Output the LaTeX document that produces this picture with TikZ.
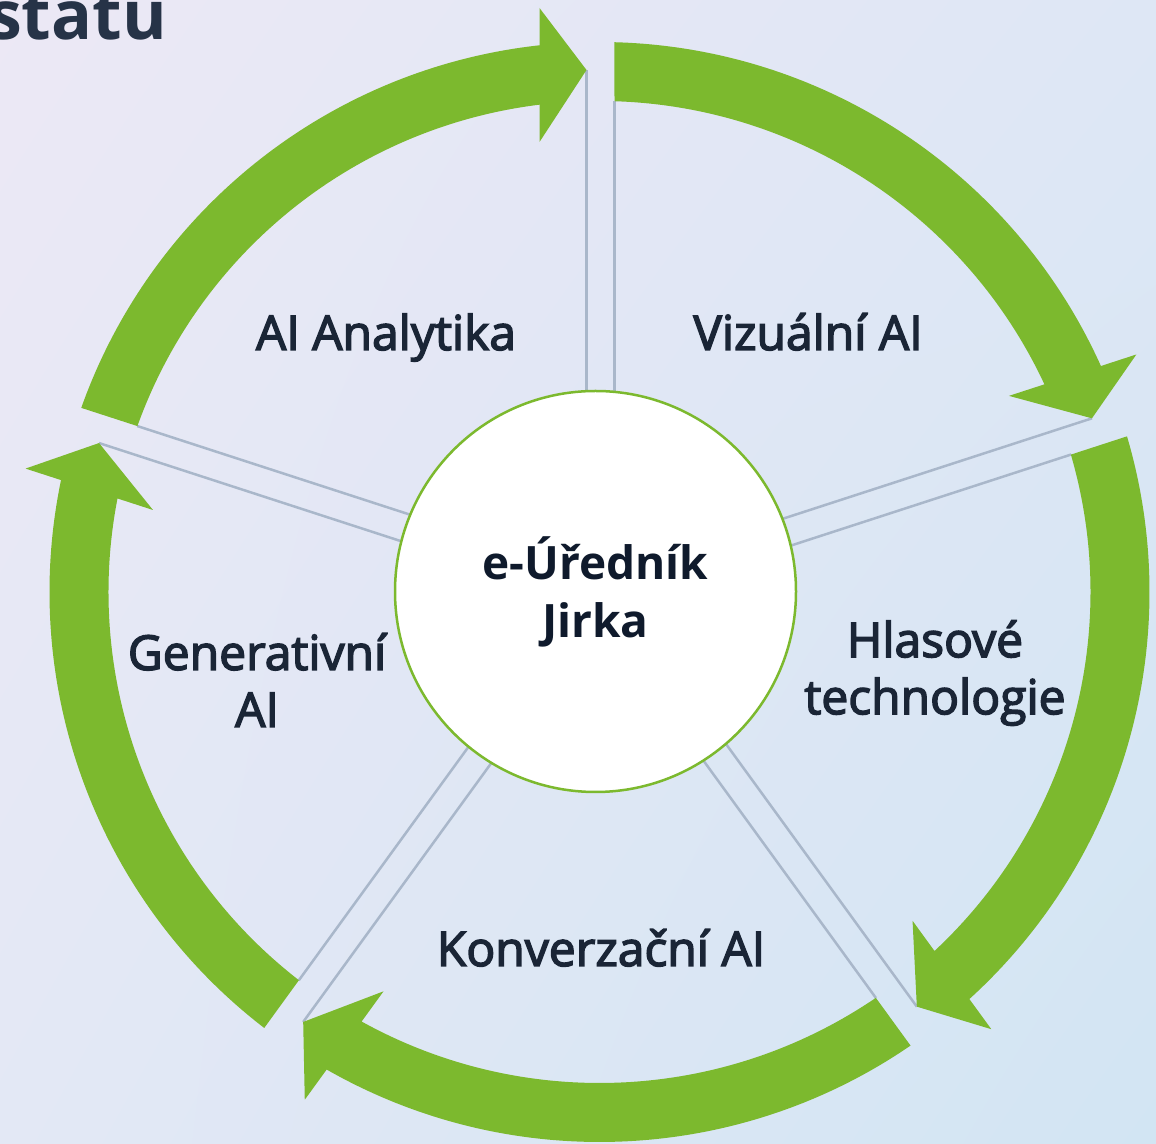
\documentclass[tikz,border=0pt]{standalone}
\usepackage{fontspec}
\setmainfont{Open Sans}
\newfontfamily\semifont[FakeBold=3]{Open Sans}
\usetikzlibrary{calc,shadings}
\definecolor{bgTL}{HTML}{ECE8F5}
\definecolor{bgTR}{HTML}{DEE7F5}
\definecolor{bgBL}{HTML}{E3E8F5}
\definecolor{bgBR}{HTML}{D2E5F3}
\definecolor{arrowgreen}{HTML}{7CB92E}
\definecolor{linegray}{HTML}{A9B7CA}
\definecolor{labeltext}{HTML}{1A2536}
\definecolor{centertext}{HTML}{0F1A2C}
\definecolor{titletext}{HTML}{263347}
\begin{document}
\begin{tikzpicture}[x=1pt,y=1pt,
  gapline/.style={draw=linegray, line width=2.5pt},
  cyclearrow/.style={fill=arrowgreen},
  hub/.style={circle, draw=arrowgreen, line width=2.5pt, fill=white, minimum size=401pt, inner sep=0pt, align=center, text=centertext, font=\fontsize{46}{58}\selectfont\bfseries},
  label/.style={text=labeltext, align=center, inner sep=0pt, font=\semifont\fontsize{48}{57}\selectfont},
  titlestyle/.style={text=titletext, inner sep=0pt, font=\fontsize{68}{80}\selectfont\bfseries}
]
\useasboundingbox (0,0) rectangle (1156,1143);
\clip (0,0) rectangle (1156,1143);
\shade[upper left=bgTL, upper right=bgTR, lower left=bgBL, lower right=bgBR] (0,0) rectangle (1156,1143);

\node[titlestyle, anchor=base west] (title) at (-12,1103) {statu};

\coordinate (R) at (599.5,551);
\coordinate (Cc) at (595.5,551.5);

% gap lines
\foreach \g in {90,18,-54,-126,-198} {
  \begin{scope}[shift={(R)}, rotate=\g-90]
    \draw[gapline] (-13,150) -- (-13,522);
    \draw[gapline] (15,150) -- (15,491);
  \end{scope}
}

% green cycle arrows
\foreach \g in {90,18,-54,-126,-198} {
  \begin{scope}[shift={(R)}, rotate=\g-90]
    \fill[cyclearrow] (160.44:550) arc[start angle=160.44, end angle=96.26, radius=550pt]
      -- (-60,584) -- (-13,522) -- (-60,450) -- (97.02:491)
      arc[start angle=97.02, end angle=160.25, radius=491pt] -- cycle;
  \end{scope}
}

\node[hub] (hub) at (Cc) {e-Úředník\\Jirka};

\node[label, anchor=base] (analytika) at (386,793) {AI Analytika};
\node[label, anchor=base] (vizualni) at (808,793) {Vizuální AI};
\node[label] (hlasove) at (935,470) {Hlasové\\technologie};
\node[label, anchor=base] (konverzacni) at (601,177) {Konverzační AI};
\node[label] (generativni) at (257,463) {Generativní\\AI};
\end{tikzpicture}
\end{document}
